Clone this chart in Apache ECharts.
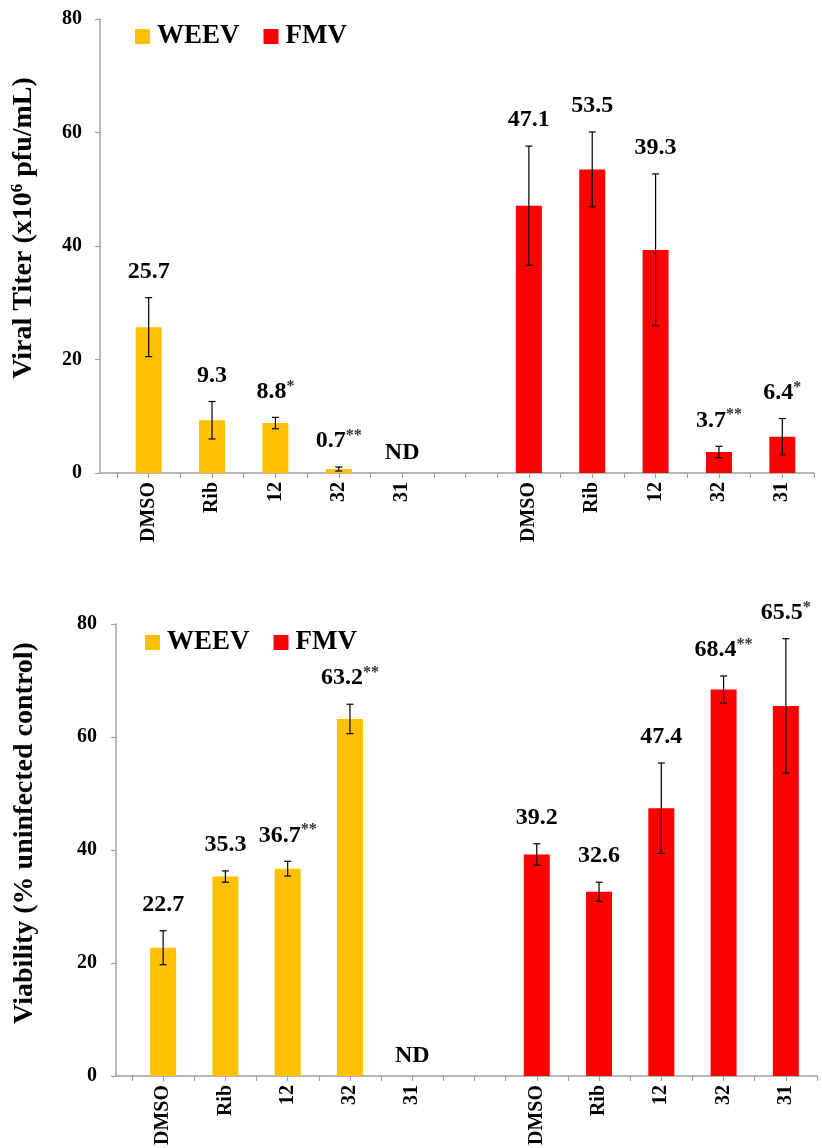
<!DOCTYPE html>
<html>
<head>
<meta charset="utf-8">
<script src="https://cdn.jsdelivr.net/npm/echarts@6/dist/echarts.min.js"></script>
<style>
  html, body { margin: 0; padding: 0; background: #fff; }
  #chart { width: 822px; height: 1148px; }
</style>
</head>
<body>
<div id="chart"></div>
<script>
// Treatment slots: WEEV group (0-4), spacer (5), FMV group (6-10)
const categories = ['DMSO', 'Rib', '12', '32', '31', '', 'DMSO', 'Rib', '12', '32', '31'];
const seriesNames = ['WEEV', 'FMV'];
const yTickValues = [0, 20, 40, 60, 80];

// Viral titer (x10^6 pfu/mL); null = not detected
const titerWEEV = [25.7, 9.3, 8.8, 0.7, null];
const titerWEEVErr = [5.2, 3.3, 1.0, 0.35, null];
const titerWEEVSig = ['', '', '*', '**', ''];
const titerFMV = [47.1, 53.5, 39.3, 3.7, 6.4];
const titerFMVErr = [10.5, 6.6, 13.4, 1.0, 3.2];
const titerFMVSig = ['', '', '', '**', '*'];

// Viability (% uninfected control)
const viabWEEV = [22.7, 35.3, 36.7, 63.2, null];
const viabWEEVErr = [3.0, 1.0, 1.3, 2.6, null];
const viabWEEVSig = ['', '', '**', '**', ''];
const viabFMV = [39.2, 32.6, 47.4, 68.4, 65.5];
const viabFMVErr = [1.9, 1.7, 8.0, 2.4, 11.9];
const viabFMVSig = ['', '', '', '**', '*'];

const FONT = '"Liberation Serif", "Times New Roman", serif';
const AXIS_GRAY = '#a0a0a0';
const COLORS = { WEEV: '#FFC000', FMV: '#FF0000' };

function padGroup(values, first) {
  const out = new Array(categories.length).fill('-');
  values.forEach((v, i) => { out[first ? i : i + 6] = (v === null ? '-' : v); });
  return out;
}

// Error bars, value labels and significance marks for one panel
function annotations(weev, weevErr, weevSig, fmv, fmvErr, fmvSig) {
  const items = [];
  weev.forEach((v, i) => items.push({ slot: i, v: v, e: weevErr[i], sig: weevSig[i] }));
  fmv.forEach((v, i) => items.push({ slot: i + 6, v: v, e: fmvErr[i], sig: fmvSig[i] }));
  return items;
}

const rich = {
  v: { fontSize: 24, fontWeight: 'bold', fontFamily: FONT, fill: '#000', lineHeight: 26 },
  s: { fontSize: 16, fontWeight: 'bold', fontFamily: FONT, fill: '#333', verticalAlign: 'top', lineHeight: 26 }
};

function makeRenderer(items) {
  return function (params, api) {
    const it = items[params.dataIndex];
    const base = api.coord([it.slot, 0]);
    if (it.v === null) {
      return {
        type: 'text', x: base[0], y: base[1] - 20,
        style: { text: '{v|ND}', rich: rich, align: 'center', verticalAlign: 'middle' }
      };
    }
    const top = api.coord([it.slot, it.v + it.e]);
    const bot = api.coord([it.slot, it.v - it.e]);
    const x = top[0];
    const cap = 3.5;
    const lineStyle = { stroke: '#000', lineWidth: 1.2 };
    const label = '{v|' + it.v.toFixed(1) + '}' + (it.sig ? '{s|' + it.sig + '}' : '');
    return {
      type: 'group',
      children: [
        { type: 'line', shape: { x1: x, y1: top[1], x2: x, y2: bot[1] }, style: lineStyle },
        { type: 'line', shape: { x1: x - cap, y1: top[1], x2: x + cap, y2: top[1] }, style: lineStyle },
        { type: 'line', shape: { x1: x - cap, y1: bot[1], x2: x + cap, y2: bot[1] }, style: lineStyle },
        {
          type: 'text', x: x, y: top[1] - 26,
          style: { text: label, rich: rich, align: 'center', verticalAlign: 'middle' }
        }
      ]
    };
  };
}

const titerItems = annotations(titerWEEV, titerWEEVErr, titerWEEVSig, titerFMV, titerFMVErr, titerFMVSig);
const viabItems = annotations(viabWEEV, viabWEEVErr, viabWEEVSig, viabFMV, viabFMVErr, viabFMVSig);

function categoryAxes(gridIndex) {
  return [
    {
      gridIndex: gridIndex, type: 'category', data: categories, position: 'bottom',
      boundaryGap: true,
      axisLine: { show: true, lineStyle: { color: AXIS_GRAY, width: 1.5 } },
      axisTick: { show: true, interval: 0, length: 5, lineStyle: { color: AXIS_GRAY, width: 1.2 } },
      axisLabel: {
        interval: 0, rotate: 90, margin: 9, color: '#000',
        fontSize: 20, fontWeight: 'bold', fontFamily: FONT
      }
    },
    {
      // second tick row at each slot centre
      gridIndex: gridIndex, type: 'category', data: categories, position: 'bottom',
      boundaryGap: true,
      axisLine: { show: false },
      axisTick: { show: true, interval: 0, alignWithLabel: true, length: 5, lineStyle: { color: AXIS_GRAY, width: 1.2 } },
      axisLabel: { show: false }
    }
  ];
}

function valueAxis(gridIndex, offset, margin) {
  return {
    gridIndex: gridIndex, type: 'value',
    min: yTickValues[0], max: yTickValues[yTickValues.length - 1],
    interval: yTickValues[1] - yTickValues[0],
    offset: offset,
    axisLine: { show: true, lineStyle: { color: AXIS_GRAY, width: 1.5 } },
    axisTick: { show: true, length: 5, lineStyle: { color: AXIS_GRAY, width: 1.2 } },
    axisLabel: { margin: margin, color: '#000', fontSize: 20, fontWeight: 'bold', fontFamily: FONT },
    splitLine: { show: false }
  };
}

function barSeries(name, values, first, xIdx, yIdx) {
  return {
    name: name, type: 'bar', xAxisIndex: xIdx, yAxisIndex: yIdx,
    data: padGroup(values, first), barWidth: 26, barGap: '-100%',
    itemStyle: { color: COLORS[name] }
  };
}

const legendStyle = {
  data: seriesNames, icon: 'rect', itemWidth: 15, itemHeight: 15, itemGap: 24,
  selectedMode: false,
  textStyle: { fontSize: 27, fontWeight: 'bold', fontFamily: FONT, color: '#000', padding: [0, 0, 0, 2] }
};

const titleRich = {
  t: { fontSize: 28, fontWeight: 'bold', fontFamily: FONT, fill: '#000', lineHeight: 30 },
  s: { fontSize: 17, fontWeight: 'bold', fontFamily: FONT, fill: '#000', verticalAlign: 'top', lineHeight: 30 }
};

const option = {
  animation: false,
  backgroundColor: '#fff',
  color: [COLORS.WEEV, COLORS.FMV],
  grid: [
    { left: 117, top: 19, width: 697, height: 454 },
    { left: 132, top: 624, width: 685, height: 452 }
  ],
  legend: [
    Object.assign({ left: 130, top: 18 }, legendStyle),
    Object.assign({ left: 140, top: 624 }, legendStyle)
  ],
  xAxis: categoryAxes(0).concat(categoryAxes(1)),
  yAxis: [valueAxis(0, 17, 18), valueAxis(1, 16, 19)],
  graphic: [
    { type: 'line', shape: { x1: 100, y1: 473, x2: 118, y2: 473 }, style: { stroke: AXIS_GRAY, lineWidth: 1.5 } },
    { type: 'line', shape: { x1: 116, y1: 1076, x2: 133, y2: 1076 }, style: { stroke: AXIS_GRAY, lineWidth: 1.5 } },
    {
      type: 'text', x: 24, y: 228, rotation: Math.PI / 2,
      style: { text: '{t|Viral Titer (x10}{s|6}{t| pfu/mL)}', rich: titleRich, align: 'center', verticalAlign: 'middle' }
    },
    {
      type: 'text', x: 25, y: 833, rotation: Math.PI / 2,
      style: { text: '{t|Viability (% uninfected control)}', rich: titleRich, align: 'center', verticalAlign: 'middle' }
    }
  ],
  series: [
    barSeries('WEEV', titerWEEV, true, 0, 0),
    barSeries('FMV', titerFMV, false, 0, 0),
    {
      type: 'custom', xAxisIndex: 0, yAxisIndex: 0, clip: false, z: 5,
      data: titerItems.map(it => [it.slot, it.v === null ? 0 : it.v]),
      renderItem: makeRenderer(titerItems)
    },
    barSeries('WEEV', viabWEEV, true, 2, 1),
    barSeries('FMV', viabFMV, false, 2, 1),
    {
      type: 'custom', xAxisIndex: 2, yAxisIndex: 1, clip: false, z: 5,
      data: viabItems.map(it => [it.slot, it.v === null ? 0 : it.v]),
      renderItem: makeRenderer(viabItems)
    }
  ]
};

const chart = echarts.init(document.getElementById('chart'), null, { renderer: 'canvas' });
chart.setOption(option);
</script>
</body>
</html>
